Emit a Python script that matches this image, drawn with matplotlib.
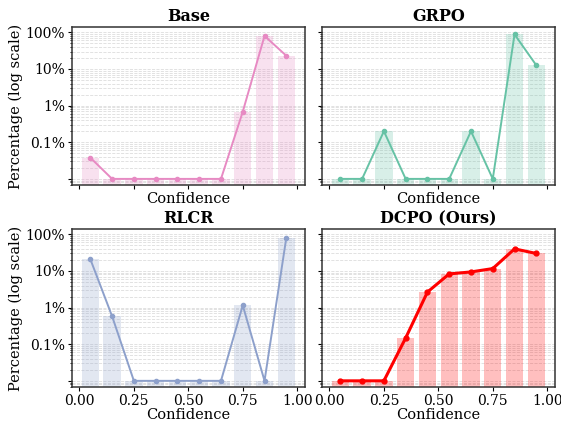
import numpy as np
import matplotlib
matplotlib.use('Agg')
import matplotlib.pyplot as plt
from matplotlib.ticker import FixedLocator, LogLocator, NullFormatter, FuncFormatter

plt.rcParams['font.family'] = 'DejaVu Serif'

# confidence bin centres
conf = [0.05, 0.15, 0.25, 0.35, 0.45, 0.55, 0.65, 0.75, 0.85, 0.95]

# percentage of samples per bin (floor 0.01%)
base = [0.038, 0.01, 0.01, 0.01, 0.01, 0.01, 0.01, 0.68, 80.0, 23.0]
grpo = [0.01, 0.01, 0.2, 0.01, 0.01, 0.01, 0.2, 0.01, 88.0, 12.6]
rlcr = [21.0, 0.58, 0.01, 0.01, 0.01, 0.01, 0.01, 1.15, 0.01, 80.0]
dcpo = [0.01, 0.01, 0.01, 0.148, 2.65, 8.3, 9.4, 11.6, 40.0, 30.0]

titles = ['Base', 'GRPO', 'RLCR', 'DCPO (Ours)']
series = [base, grpo, rlcr, dcpo]
colors = ['#e78ac3', '#66c2a5', '#8da0cb', 'red']

yticks = [0.01, 0.1, 1, 10, 100]
ylabels = {0.1: '0.1%', 1: '1%', 10: '10%', 100: '100%'}
xticks = [0, 0.25, 0.5, 0.75, 1.0]


def pct(v, pos):
    for t, s in ylabels.items():
        if abs(v - t) < 1e-9 * max(t, 1):
            return s
    return ''


fig, axes = plt.subplots(2, 2, figsize=(5.61, 4.22), dpi=100)
plt.subplots_adjust(left=0.128, right=0.989, bottom=0.083, top=0.936, wspace=0.073, hspace=0.278)

for k, ax in enumerate(axes.flat):
    vals = series[k]
    col = colors[k]
    ours = k == 3
    ax.set_yscale('log')
    ax.grid(True, which='both', axis='y', ls='--', color='#d4d4d4', lw=0.6, alpha=0.8)
    ax.set_axisbelow(True)
    ax.bar(conf, vals, width=0.08, color=col, alpha=0.25, zorder=2)
    ax.plot(conf, vals, '-o', color=col, lw=2.2 if ours else 1.4,
            ms=3.5 if ours else 3, zorder=3)
    ax.set_title(titles[k], fontweight='bold', fontsize=11.5, pad=4)
    ax.set_ylim(0.0068, 140)
    ax.set_xlim(-0.035, 1.035)
    ax.yaxis.set_major_locator(FixedLocator(yticks))
    ax.yaxis.set_minor_locator(LogLocator(base=10, subs=np.arange(2, 10), numticks=20))
    ax.yaxis.set_minor_formatter(NullFormatter())
    ax.set_xticks(xticks)
    ax.set_xlabel('Confidence', fontsize=10.5, labelpad=0)
    ax.tick_params(labelsize=10, length=3, pad=2)
    ax.tick_params(which='minor', length=1.5)
    for s in ax.spines.values():
        s.set_color('#333333')
        s.set_linewidth(1.1)
    if k % 2 == 0:
        ax.yaxis.set_major_formatter(FuncFormatter(pct))
        ax.set_ylabel('Percentage (log scale)', fontsize=10.5, labelpad=2)
    else:
        ax.yaxis.set_major_formatter(NullFormatter())
    if k < 2:
        ax.xaxis.set_major_formatter(NullFormatter())
    else:
        ax.set_xticklabels(['0.00', '0.25', '0.50', '0.75', '1.00'])

fig.savefig('out.png', dpi=100)
